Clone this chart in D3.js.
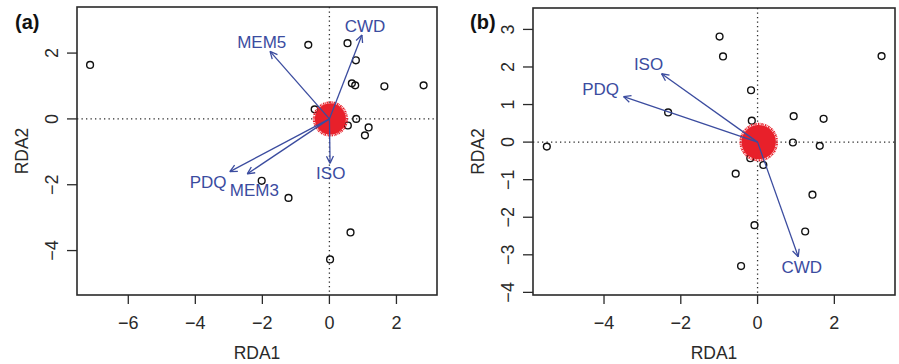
<!DOCTYPE html>
<html>
<head>
<meta charset="utf-8">
<script src="https://cdn.jsdelivr.net/npm/d3@7"></script>
<style>
  body { margin: 0; background: #fff; }
  text { font-family: "Liberation Sans", Arial, sans-serif; }
</style>
</head>
<body>
<svg id="chart" width="899" height="364"></svg>
<script>
// panel (a) site scores
const sitesAX = [-7.14, -0.63, 0.54, 0.79, 0.67, 0.77, 1.64, 2.81, -0.44, 0.02, 0.80, 0.55, 1.17, 1.06, -2.02, -1.22, 0.63, 0.02];
const sitesAY = [1.64, 2.25, 2.30, 1.78, 1.08, 1.02, 0.99, 1.02, 0.29, 0.33, 0.00, -0.20, -0.26, -0.50, -1.88, -2.40, -3.45, -4.27];
// panel (a) biplot arrows
const varsA = ['CWD', 'MEM5', 'ISO', 'PDQ', 'MEM3'];
const arrowAX = [0.97, -1.77, 0.02, -2.97, -2.45];
const arrowAY = [2.55, 2.05, -1.35, -1.60, -1.67];
const labelAX = [1.06, -2.02, 0.04, -3.62, -2.24];
const labelAY = [2.83, 2.33, -1.63, -1.90, -2.17];
// species cloud: centre x, centre y, radius (x units)
const cloudA = [0.03, 0.0, 0.5];

// panel (b) site scores
const sitesBX = [-5.49, -0.99, -0.90, 3.23, -0.17, -2.33, -0.15, 0.94, 1.72, 0.92, 1.62, -0.19, 0.15, -0.57, 1.43, -0.08, 1.24, -0.43];
const sitesBY = [-0.12, 2.81, 2.28, 2.29, 1.38, 0.79, 0.57, 0.69, 0.62, -0.01, -0.10, -0.43, -0.61, -0.84, -1.40, -2.21, -2.38, -3.30];
const varsB = ['ISO', 'PDQ', 'CWD'];
const arrowBX = [-2.50, -3.49, 1.06];
const arrowBY = [1.82, 1.21, -3.05];
const labelBX = [-2.84, -4.09, 1.15];
const labelBY = [2.08, 1.42, -3.32];
const cloudB = [0.03, 0.0, 0.48];

const ticksAX = [-6, -4, -2, 0, 2];
const ticksAY = [-4, -2, 0, 2];
const ticksBX = [-4, -2, 0, 2];
const ticksBY = [-4, -3, -2, -1, 0, 1, 2, 3];

const blue = '#3b4c9f';
const red = '#e8202a';
const ink = '#2a2a2a';
const svg = d3.select('#chart');

function minus(v) { return String(v).replace('-', '\u2212'); }

function drawPanel(p) {
  const x = d3.scaleLinear().domain(p.xDomain).range([p.left, p.right]);
  const y = d3.scaleLinear().domain(p.yDomain).range([p.bottom, p.top]);
  const g = svg.append('g');

  // zero lines
  g.append('line')
    .attr('x1', x(0)).attr('x2', x(0)).attr('y1', p.top).attr('y2', p.bottom)
    .attr('stroke', ink).attr('stroke-width', 1.3).attr('stroke-dasharray', '1.3,3.2');
  g.append('line')
    .attr('x1', p.left).attr('x2', p.right).attr('y1', y(0)).attr('y2', y(0))
    .attr('stroke', ink).attr('stroke-width', 1.3).attr('stroke-dasharray', '1.3,3.2');

  // sites
  g.selectAll('circle.site')
    .data(d3.range(p.sx.length))
    .enter().append('circle')
    .attr('class', 'site')
    .attr('cx', i => x(p.sx[i]))
    .attr('cy', i => y(p.sy[i]))
    .attr('r', 3.4)
    .attr('fill', 'none')
    .attr('stroke', '#111')
    .attr('stroke-width', 1.4);

  // species cloud
  const cr = x(p.cloud[2]) - x(0);
  g.append('circle')
    .attr('cx', x(p.cloud[0])).attr('cy', y(p.cloud[1]))
    .attr('r', cr - 1.2)
    .attr('fill', red);
  g.append('circle')
    .attr('cx', x(p.cloud[0])).attr('cy', y(p.cloud[1]))
    .attr('r', cr - 0.2)
    .attr('fill', 'none')
    .attr('stroke', red).attr('stroke-width', 2.2)
    .attr('stroke-dasharray', '0.7,0.9,1.4,0.6');

  // arrows
  const x0 = x(0), y0 = y(0);
  p.vars.forEach((name, i) => {
    const tx = x(p.ax[i]), ty = y(p.ay[i]);
    const ang = Math.atan2(ty - y0, tx - x0);
    g.append('line')
      .attr('x1', x0).attr('y1', y0).attr('x2', tx).attr('y2', ty)
      .attr('stroke', blue).attr('stroke-width', 1.3);
    [-0.45, 0.45].forEach(da => {
      g.append('line')
        .attr('x1', tx).attr('y1', ty)
        .attr('x2', tx - 8 * Math.cos(ang + da))
        .attr('y2', ty - 8 * Math.sin(ang + da))
        .attr('stroke', blue).attr('stroke-width', 1.3);
    });
    g.append('text')
      .attr('x', x(p.lx[i])).attr('y', y(p.ly[i]))
      .attr('dy', '0.36em')
      .attr('text-anchor', 'middle')
      .attr('font-size', 17)
      .attr('fill', blue)
      .text(name);
  });

  // box
  g.append('rect')
    .attr('x', p.left).attr('y', p.top)
    .attr('width', p.right - p.left).attr('height', p.bottom - p.top)
    .attr('fill', 'none').attr('stroke', ink).attr('stroke-width', 1.6);

  // x axis
  const xa = g.append('g');
  p.xt.forEach(t => {
    xa.append('line').attr('x1', x(t)).attr('x2', x(t))
      .attr('y1', p.bottom).attr('y2', p.bottom + 9)
      .attr('stroke', ink).attr('stroke-width', 1.3);
    xa.append('text').attr('x', x(t)).attr('y', p.bottom + 28)
      .attr('dy', '0.36em').attr('text-anchor', 'middle')
      .attr('font-size', 18).attr('fill', ink)
      .text(minus(t));
  });
  g.append('text').attr('x', (p.left + p.right) / 2).attr('y', 353)
    .attr('dy', '0.36em').attr('text-anchor', 'middle')
    .attr('font-size', 17.5).attr('fill', ink).text('RDA1');

  // y axis
  p.yt.forEach(t => {
    g.append('line').attr('x1', p.left - 10).attr('x2', p.left)
      .attr('y1', y(t)).attr('y2', y(t))
      .attr('stroke', ink).attr('stroke-width', 1.3);
    g.append('text')
      .attr('transform', `translate(${p.left - 25},${y(t)}) rotate(-90)`)
      .attr('dy', '0.36em').attr('text-anchor', 'middle')
      .attr('font-size', 18).attr('fill', ink)
      .text(minus(t));
  });
  g.append('text')
    .attr('transform', `translate(${p.left - 55},${(p.top + p.bottom) / 2}) rotate(-90)`)
    .attr('dy', '0.36em').attr('text-anchor', 'middle')
    .attr('font-size', 17.5).attr('fill', ink).text('RDA2');

  g.append('text').attr('x', p.tagX).attr('y', 29)
    .attr('font-size', 20).attr('font-weight', 'bold').attr('fill', '#111')
    .text(p.tag);
}

drawPanel({
  left: 77, right: 437, top: 7, bottom: 295,
  xDomain: [-7.53, 3.21], yDomain: [-5.35, 3.40],
  sx: sitesAX, sy: sitesAY, cloud: cloudA,
  vars: varsA, ax: arrowAX, ay: arrowAY, lx: labelAX, ly: labelAY,
  xt: ticksAX, yt: ticksAY, tag: '(a)', tagX: 15
});

drawPanel({
  left: 533, right: 895, top: 8, bottom: 295,
  xDomain: [-5.85, 3.58], yDomain: [-4.07, 3.57],
  sx: sitesBX, sy: sitesBY, cloud: cloudB,
  vars: varsB, ax: arrowBX, ay: arrowBY, lx: labelBX, ly: labelBY,
  xt: ticksBX, yt: ticksBY, tag: '(b)', tagX: 470
});
</script>
</body>
</html>
